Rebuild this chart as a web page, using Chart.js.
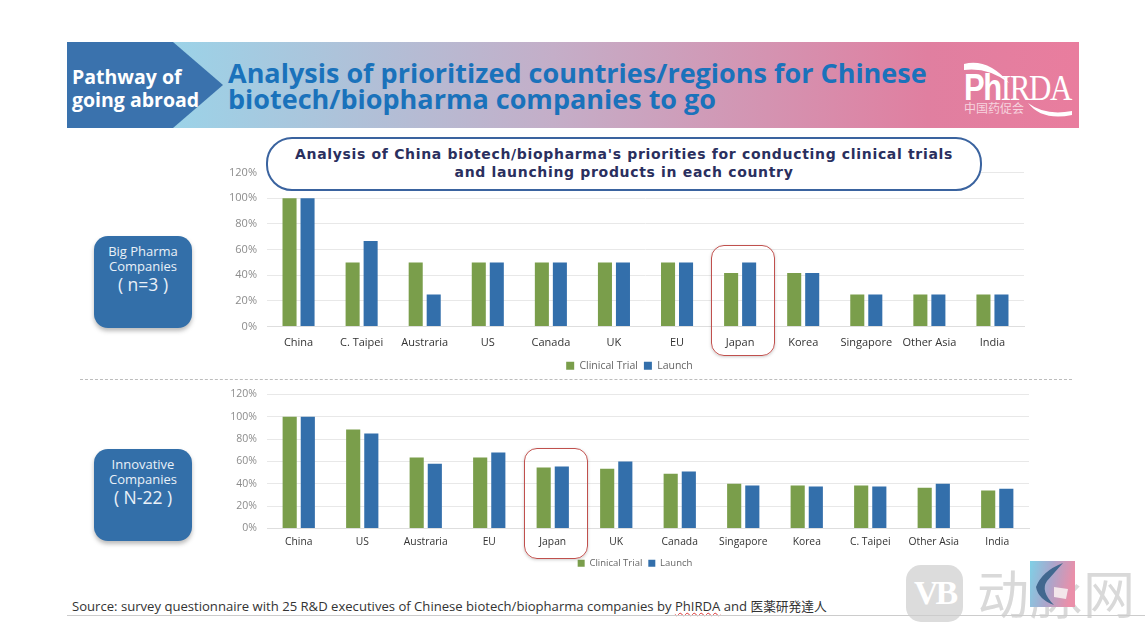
<!DOCTYPE html>
<html>
<head>
<meta charset="utf-8">
<script src="https://cdn.jsdelivr.net/npm/chart.js@4/dist/chart.umd.min.js"></script>
<style>
html, body { margin: 0; padding: 0; background: #fff; width: 1145px; height: 632px; overflow: hidden; }
body { position: relative; font-family: "Open Sans", sans-serif; }
canvas { position: absolute; }
.abs { position: absolute; }
#banner { left: 67px; top: 42px; width: 1012px; height: 86px; background: linear-gradient(90deg, #9bd3e8 10%, #c4aec8 48%, #e07fa0 85%, #e97d9e 100%); }
#arrow { left: 67px; top: 42px; width: 156px; height: 86px; background: #3a72ad; clip-path: polygon(0 0, 106px 0, 156px 43px, 106px 86px, 0 86px); }
#arrowText { left: 72px; top: 65px; color: #fff; font-weight: 700; font-size: 19.5px; line-height: 23px; white-space: nowrap; }
#mainTitle { left: 228px; top: 60px; color: #1a72bb; font-weight: 700; font-size: 27px; line-height: 26px; white-space: nowrap; }
#logo { left: 964px; top: 68px; color: #fff; font-family: "Liberation Serif", serif; font-size: 36px; line-height: 40px; letter-spacing: -1.6px; white-space: nowrap; transform: scaleX(0.86); transform-origin: left center; }
#logo b { font-family: "Liberation Sans", sans-serif; }
#logoArcs { left: 950px; top: 50px; }
#logoCn { left: 964px; top: 101px; color: #f6d3de; font-family: "Noto Sans CJK SC", sans-serif; font-size: 12px; line-height: 14px; white-space: nowrap; }
#subTitle { left: 266px; top: 137px; width: 712px; height: 50px; border: 2px solid #3a639f; border-radius: 26px; background: #fff; color: #2a2f5e; text-align: center; font-family: "DejaVu Sans", sans-serif; font-weight: 700; font-size: 14px; line-height: 18px; letter-spacing: 0.67px; display: flex; align-items: center; justify-content: center; }
#subTitle div { margin-top: -2px; }
.tag { left: 94px; width: 98px; height: 92px; background: #336fa9; border-radius: 14px; box-shadow: 0 3px 4px rgba(60,60,60,0.35); color: #eaf1f8; text-align: center; font-size: 13px; line-height: 15px; box-sizing: border-box; padding-top: 8px; }
.tag span { font-size: 17.5px; line-height: 20px; display: block; }
.mark { border: 1.5px solid #c0504d; border-radius: 13px; box-shadow: 0 1px 3px rgba(90,90,90,0.3); box-sizing: border-box; }
#divider { left: 80px; top: 379px; width: 992px; border-top: 1px dashed #bdbdbd; }
#source { left: 72px; top: 597px; font-size: 13.1px; line-height: 17px; color: #333; white-space: nowrap; }
#source i { font-style: normal; font-size: 12.7px; font-family: "Noto Sans CJK JP", sans-serif; }
#source u { text-decoration: underline wavy #d33 0.7px; }
#rule { left: 67px; top: 615px; width: 1078px; border-top: 1px solid #ccc; }
#thumb { left: 1030px; top: 561px; }
#wmIcon { left: 906px; top: 565px; width: 57px; height: 57px; border-radius: 15px; background: #dcdcdc; color: #fff; font-family: "Liberation Serif", serif; font-weight: 700; font-size: 34px; line-height: 56px; letter-spacing: -3px; text-align: center; }
#wmText { left: 977px; top: 561px; color: #d9d9d9; font-family: "Noto Sans CJK SC", sans-serif; font-size: 52px; line-height: 62px; letter-spacing: 1px; white-space: nowrap; }
</style>
</head>
<body>
<div class="abs" id="banner"></div>
<div class="abs" id="arrow"></div>
<div class="abs" id="arrowText">Pathway of<br>going abroad</div>
<div class="abs" id="mainTitle">Analysis of prioritized countries/regions for Chinese<br>biotech/biopharma companies to go</div>
<svg class="abs" id="logoArcs" width="130" height="75">
  <path d="M14 14 Q38 8 59 33 Q38 17 14 20 Z" fill="#fff"/>
  <path d="M78 53 Q95 66 122 61 L122 65 Q92 71 78 53 Z" fill="#fff"/>
</svg>
<div class="abs" id="logo"><b>Ph</b>IRDA</div>
<div class="abs" id="logoCn">中国药促会</div>

<canvas id="bigChart" width="830" height="226" style="left:215px;top:156px;width:830px;height:226px"></canvas>
<canvas id="innoChart" width="838" height="205" style="left:215px;top:378px;width:838px;height:205px"></canvas>

<div class="abs" id="subTitle"><div>Analysis of China biotech/biopharma's priorities for conducting clinical trials<br>and launching products in each country</div></div>
<div class="abs tag" style="top:236px">Big Pharma<br>Companies<span>( n=3 )</span></div>
<div class="abs tag" style="top:449px">Innovative<br>Companies<span>( N-22 )</span></div>
<div class="abs mark" style="left:711px;top:245px;width:64px;height:111px"></div>
<div class="abs mark" style="left:524px;top:448px;width:64px;height:111px"></div>
<div class="abs" id="divider"></div>
<div class="abs" id="wmIcon">VB</div>
<div class="abs" id="wmText">动脉网</div>
<svg class="abs" id="thumb" width="45" height="46">
  <defs><linearGradient id="thumbFill" x1="0" y1="0" x2="1" y2="0.2"><stop offset="0" stop-color="#7fd0e6"/><stop offset="0.5" stop-color="#a9a6cc"/><stop offset="1" stop-color="#ea8fa9"/></linearGradient></defs>
  <rect width="45" height="46" fill="url(#thumbFill)"/>
  <path d="M33 2 Q12 10 6 26 Q8 38 24 44 Q10 30 17 20 Q24 12 33 2 Z" fill="#41688f"/>
  <path d="M24 26 L38 28 L36 38 L24 36 Z" fill="#f3e6ea"/>
</svg>
<div class="abs" id="source">Source: survey questionnaire with 25 R&amp;D executives of Chinese biotech/biopharma companies by <u>PhIRDA</u> and <i>医薬研発達人</i></div>
<div class="abs" id="rule"></div>

<script>
var bigCategories = ['China', 'C. Taipei', 'Austraria', 'US', 'Canada', 'UK', 'EU', 'Japan', 'Korea', 'Singapore', 'Other Asia', 'India'];
var bigTrial = [100, 50, 50, 50, 50, 50, 50, 41.7, 41.7, 25, 25, 25];
var bigLaunch = [100, 66.7, 25, 50, 50, 50, 50, 50, 41.7, 25, 25, 25];

var innoCategories = ['China', 'US', 'Austraria', 'EU', 'Japan', 'UK', 'Canada', 'Singapore', 'Korea', 'C. Taipei', 'Other Asia', 'India'];
var innoTrial = [100, 88.5, 63.5, 63.5, 54.5, 53.5, 49, 40, 38.5, 38.5, 36.5, 34];
var innoLaunch = [100, 85, 58, 68, 55.5, 60, 51, 38.5, 37.5, 37.5, 40, 35.5];

var seriesNames = ['Clinical Trial', 'Launch'];
var fontFamily = '"Open Sans", sans-serif';

// the legend sits a bit right of where Chart.js centres it
var shiftLegend = {
    id: 'shiftLegend',
    afterLayout: function (chart, args, opts) {
        chart.legend.left += opts.by;
        chart.legend.right += opts.by;
    }
};

function drawChart(id, labels, trial, launch, o) {
    new Chart(document.getElementById(id), {
        type: 'bar',
        plugins: [shiftLegend],
        data: {
            labels: labels,
            datasets: [
                { label: seriesNames[0], data: trial, backgroundColor: '#7a9e4b', categoryPercentage: 0.571, barPercentage: 0.78 },
                { label: seriesNames[1], data: launch, backgroundColor: '#336fab', categoryPercentage: 0.571, barPercentage: 0.78 }
            ]
        },
        options: {
            responsive: false,
            animation: false,
            devicePixelRatio: 1,
            layout: { padding: o.padding },
            plugins: {
                tooltip: { enabled: false },
                shiftLegend: { by: o.legendShift },
                legend: {
                    position: 'bottom',
                    labels: { boxWidth: o.boxSize, boxHeight: o.boxSize, padding: 6, color: '#666', font: { family: fontFamily, size: o.legendSize } }
                }
            },
            scales: {
                x: {
                    grid: { display: false },
                    border: { color: '#dedede' },
                    ticks: { color: '#333', font: { family: fontFamily, size: o.xSize }, maxRotation: 0, autoSkip: false, padding: o.xPad },
                    afterFit: function (axis) { axis.height = o.xHeight; }
                },
                y: {
                    min: 0,
                    max: 120,
                    grid: { color: '#e8e8e8', drawTicks: false },
                    border: { display: false },
                    ticks: { stepSize: 20, color: '#8c8c8c', font: { family: fontFamily, size: o.ySize }, padding: 10, callback: function (v) { return v + '%'; } },
                    afterFit: function (axis) { axis.width = 52; }
                }
            }
        }
    });
}

drawChart('bigChart', bigCategories, bigTrial, bigLaunch, {
    padding: { top: 8, right: 21, bottom: 1, left: 0 },
    xHeight: 28, xPad: 2, xSize: 11, ySize: 11, legendSize: 10.5, boxSize: 8, legendShift: 10
});
drawChart('innoChart', innoCategories, innoTrial, innoLaunch, {
    padding: { top: 9.5, right: 24, bottom: 5, left: 0 },
    xHeight: 24, xPad: -1, xSize: 10.3, ySize: 10.5, legendSize: 9.5, boxSize: 7, legendShift: 13
});
</script>
</body>
</html>
